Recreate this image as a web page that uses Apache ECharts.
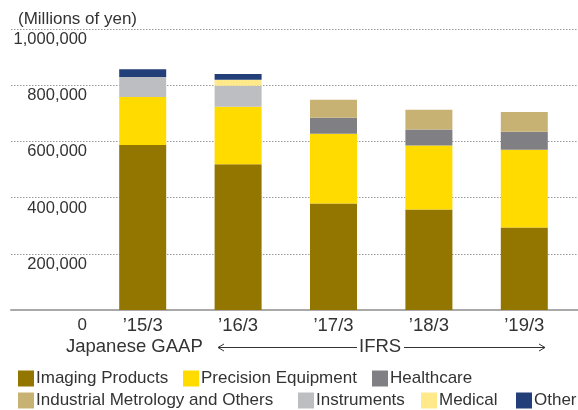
<!DOCTYPE html>
<html>
<head>
<meta charset="utf-8">
<script src="https://cdn.jsdelivr.net/npm/echarts@6/dist/echarts.min.js"></script>
<style>
html,body{margin:0;padding:0;background:#fff;}
#c{width:578px;height:410px;}
</style>
</head>
<body>
<div id="c"></div>
<script>
// ---- data (millions of yen) ----
const categories = ['\u201915/3', '\u201916/3', '\u201917/3', '\u201918/3', '\u201919/3'];
const imagingProducts    = [587000, 519000, 379000, 358000, 294000];
const precisionEquipment = [171000, 204000, 248000, 227000, 276000];
const healthcare         = [null, null, 57000, 57000, 64000];
const industrialMetrology= [null, null, 64000, 71000, 71000];
const instruments        = [71000, 75000, null, null, null];
const medical            = [null, 21000, null, null, null];
const other              = [28000, 21000, null, null, null];
const yMin = 0, yMax = 1000000, yStep = 200000;

const seriesNames = ['Imaging Products', 'Precision Equipment', 'Healthcare',
  'Industrial Metrology and Others', 'Instruments', 'Medical', 'Other'];
const seriesData = [imagingProducts, precisionEquipment, healthcare,
  industrialMetrology, instruments, medical, other];
const colors = ['#937600', '#FFDB00', '#808084', '#C8B273', '#BCBEC2', '#FFE98A', '#233F7A'];

// legend placement (layout only)
const legendPos = [[18, 370], [183, 370], [372, 370], [18, 392], [298, 392], [421, 392], [516, 392]];

const chart = echarts.init(document.getElementById('c'), null, {renderer: 'canvas'});
const FONT = 'Liberation Sans, Arial, Helvetica, sans-serif';
const TXT = '#333333';

const option = {
  animation: false,
  color: colors,
  textStyle: {fontFamily: FONT},
  title: [
    {text: '(Millions of yen)', left: 18, top: 9, padding: 0,
     textStyle: {fontSize: 17, fontWeight: 'normal', color: TXT, fontFamily: FONT, lineHeight: 20}}
  ],
  grid: [
    {left: 11, right: 0, top: 29, bottom: 100},
    {left: 95, right: 6, top: 29, bottom: 100}
  ],
  xAxis: [
    {gridIndex: 0, type: 'category', data: categories, axisTick: {show: false},
     axisLabel: {show: false}, axisLine: {show: true, lineStyle: {color: '#a9a9a9', width: 2}}},
    {gridIndex: 1, type: 'category', data: categories, axisTick: {show: false},
     axisLine: {show: false},
     axisLabel: {margin: 7, fontSize: 18.5, color: TXT, fontFamily: FONT, lineHeight: 18}}
  ],
  yAxis: [
    {gridIndex: 0, type: 'value', min: yMin, max: yMax, interval: yStep,
     axisLabel: {show: false}, axisLine: {show: false}, axisTick: {show: false},
     splitLine: {show: true, lineStyle: {color: '#999999', width: 1, type: [1.5, 1.5]}}},
    {gridIndex: 1, type: 'value', min: yMin, max: yMax, interval: yStep,
     axisLine: {show: false}, axisTick: {show: false}, splitLine: {show: false},
     axisLabel: {
       margin: 8, verticalAlign: 'top', color: TXT, fontSize: 16.5, fontFamily: FONT,
       formatter: v => v === 0 ? '{z|0}' : '{n|' + v.toLocaleString('en-US') + '}',
       rich: {
         n: {lineHeight: 21, fontSize: 16.5, color: TXT, fontFamily: FONT},
         z: {lineHeight: 31, fontSize: 17, color: TXT, fontFamily: FONT}
       }
     }}
  ],
  legend: seriesNames.map((n, i) => ({
    data: [n], left: legendPos[i][0], top: legendPos[i][1], padding: 0,
    icon: 'rect', itemWidth: 16, itemHeight: 16, selectedMode: false,
    textStyle: {fontSize: 17, color: TXT, fontFamily: FONT, lineHeight: 16, padding: [0, 0, 0, -3]}
  })),
  series: seriesNames.map((n, i) => ({
    name: n, type: 'bar', stack: 'total', xAxisIndex: 1, yAxisIndex: 1,
    barWidth: 47, data: seriesData[i], itemStyle: {color: colors[i]}
  })),
  graphic: [
    {type: 'text', left: 66, top: 337, style: {text: 'Japanese GAAP', fontSize: 18.5, fill: TXT, fontFamily: FONT}},
    {type: 'text', left: 359, top: 337, style: {text: 'IFRS', fontSize: 18.5, fill: TXT, fontFamily: FONT}},
    {type: 'line', shape: {x1: 218, y1: 347.5, x2: 357, y2: 347.5}, style: {stroke: TXT, lineWidth: 1}},
    {type: 'line', shape: {x1: 404, y1: 347.5, x2: 545, y2: 347.5}, style: {stroke: TXT, lineWidth: 1}},
    {type: 'polyline', shape: {points: [[224, 344], [218, 347.5], [224, 351]]}, style: {stroke: TXT, lineWidth: 1, fill: null}},
    {type: 'polyline', shape: {points: [[539, 344], [545, 347.5], [539, 351]]}, style: {stroke: TXT, lineWidth: 1, fill: null}}
  ]
};
chart.setOption(option);
</script>
</body>
</html>
